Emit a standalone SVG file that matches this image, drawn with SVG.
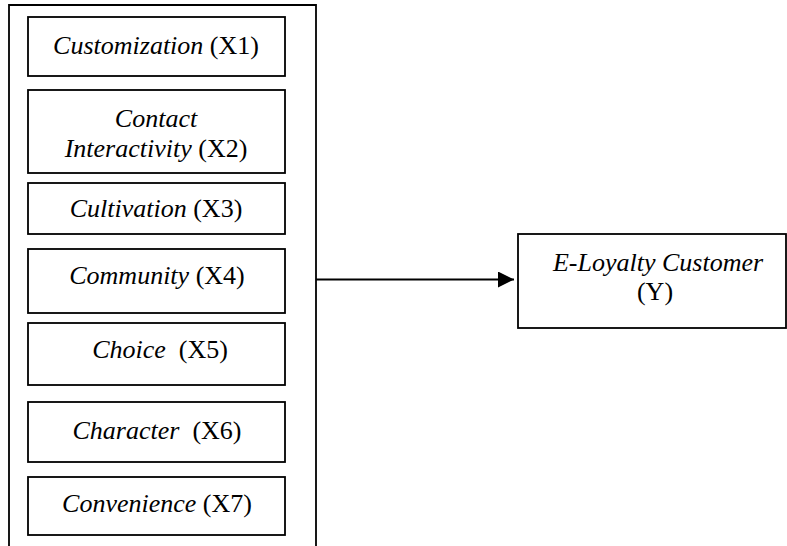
<svg xmlns="http://www.w3.org/2000/svg" width="787" height="546" viewBox="0 0 787 546">
<style>
.b{fill:#fff;stroke:#000;stroke-width:1.8}
.t{font-family:"Liberation Serif","Times New Roman",serif;font-size:26px;fill:#000;text-anchor:middle;white-space:pre}
.i{font-style:italic}
</style>
<defs>
<marker id="ah" markerWidth="16" markerHeight="16" refX="16" refY="8" orient="auto" markerUnits="userSpaceOnUse">
<path d="M0,0 L16,8 L0,16 Z" fill="#000"/>
</marker>
</defs>
<rect width="787" height="546" fill="#fff"/>
<g id="group">
<path d="M9,560 L9,5 L316,5 L316,560" fill="none" stroke="#000" stroke-width="1.8"/>
</g>
<g id="x1"><rect class="b" x="28" y="17" width="257" height="59"/><text class="t" x="156" y="54"><tspan class="i">Customization</tspan> (X1)</text></g>
<g id="x2"><rect class="b" x="28" y="90" width="257" height="83"/><text class="t" x="156" y="127"><tspan class="i">Contact</tspan></text><text class="t" x="156" y="157"><tspan class="i">Interactivity</tspan> (X2)</text></g>
<g id="x3"><rect class="b" x="28" y="183" width="257" height="51"/><text class="t" x="156" y="217"><tspan class="i">Cultivation</tspan> (X3)</text></g>
<g id="x4"><rect class="b" x="28" y="249" width="257" height="64"/><text class="t" x="157" y="284"><tspan class="i">Community</tspan> (X4)</text></g>
<g id="x5"><rect class="b" x="28" y="323" width="257" height="62"/><text class="t" x="160" y="358"><tspan class="i">Choice</tspan>  (X5)</text></g>
<g id="x6"><rect class="b" x="28" y="402" width="257" height="60"/><text class="t" x="157" y="439"><tspan class="i">Character</tspan>  (X6)</text></g>
<g id="x7"><rect class="b" x="28" y="477" width="257" height="58"/><text class="t" x="157" y="512"><tspan class="i">Convenience</tspan> (X7)</text></g>
<g id="y"><rect class="b" x="518" y="234" width="268" height="94"/><text class="t" x="658" y="271"><tspan class="i">E-Loyalty Customer</tspan></text><text class="t" x="655" y="300">(Y)</text></g>
<g id="connectors">
<line x1="316" y1="279.5" x2="514" y2="279.5" stroke="#000" stroke-width="2" marker-end="url(#ah)"/>
</g>
</svg>
